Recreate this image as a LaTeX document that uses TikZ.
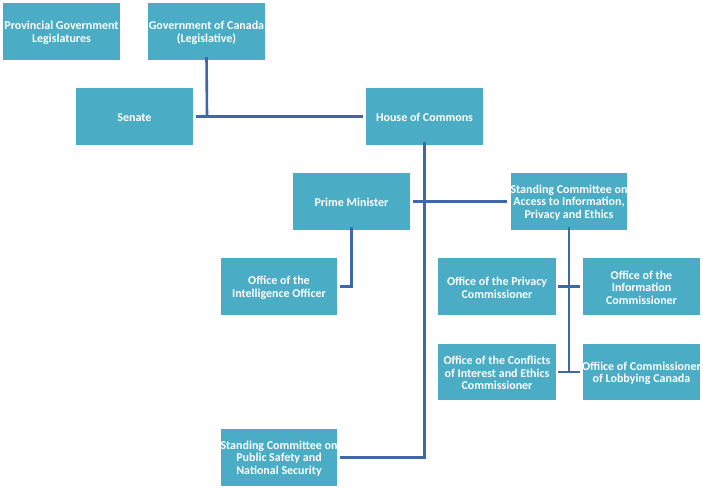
\documentclass[tikz,border=0pt]{standalone}
\usepackage{fontspec}
\setmainfont{Carlito}
\definecolor{boxfill}{RGB}{75,172,198}
\definecolor{linecol}{RGB}{62,104,170}
\begin{document}
\begin{tikzpicture}[x=1pt,y=-1pt,
  box/.style={fill=boxfill,draw=none,inner sep=0pt,minimum width=117pt,minimum height=57pt},
  lbl/.style={text=white,font=\bfseries\fontsize{12}{12.5}\selectfont,align=center,inner sep=0pt,yshift=-1.2pt},
  conn/.style={draw=linecol,line width=2.6pt}]
\useasboundingbox[fill=white] (0,0) rectangle (703,489);
\node[box] (prov) at (61.5,31.5) {};
\node[box] (gov) at (206.5,31.5) {};
\node[box] (senate) at (134.5,116.5) {};
\node[box] (house) at (424.5,116.5) {};
\node[box] (pm) at (351.5,201.5) {};
\node[box,minimum width=116pt] (scaccess) at (569,201.5) {};
\node[box,minimum width=116pt] (intel) at (279,286.5) {};
\node[box,minimum width=118pt] (privacy) at (497,286.5) {};
\node[box] (info) at (641.5,286.5) {};
\node[box,minimum width=118pt,minimum height=56pt] (conflicts) at (497,372) {};
\node[box,minimum height=56pt] (lobby) at (641.5,372) {};
\node[box,minimum width=116pt] (pubsafe) at (279,457.5) {};
\node[lbl] (prov-t) at (prov) {Provincial Government\\Legislatures};
\node[lbl] (gov-t) at (gov) {Government of Canada\\(Legislative)};
\node[lbl] (senate-t) at (senate) {Senate};
\node[lbl] (house-t) at (house) {House of Commons};
\node[lbl] (pm-t) at (pm) {Prime Minister};
\node[lbl] (scaccess-t) at (scaccess) {Standing Committee on\\Access to Information,\\Privacy and Ethics};
\node[lbl] (intel-t) at (intel) {Office of the\\Intelligence Officer};
\node[lbl] (privacy-t) at (privacy) {Office of the Privacy\\Commissioner};
\node[lbl] (info-t) at (info) {Office of the\\Information\\Commissioner};
\node[lbl] (conflicts-t) at (conflicts) {Office of the Conflicts\\of Interest and Ethics\\Commissioner};
\node[lbl] (lobby-t) at (lobby) {Offiice of Commissioner\\of Lobbying Canada};
\node[lbl] (pubsafe-t) at (pubsafe) {Standing Committee on\\Public Safety and\\National Security};
\coordinate (j1) at (207,116);
\draw[conn] ([xshift=3pt]senate.east) -- ([xshift=-3pt]house.west);
\draw[conn] ([yshift=3pt]gov.south) -- (j1);
\draw[conn] ([yshift=3pt]house.south) |- ([xshift=3pt]pubsafe.east);
\draw[conn] ([xshift=3pt]pm.east) -- ([xshift=-4pt]scaccess.west);
\draw[conn] ([yshift=3pt]pm.south) |- ([xshift=3pt]intel.east);
\coordinate (j2) at (569,372);
\draw[conn] ([yshift=3pt]scaccess.south) -- (j2);
\draw[conn] ([xshift=2pt]privacy.east) -- ([xshift=-3pt]info.west);
\draw[conn] ([xshift=2pt]conflicts.east) -- ([xshift=-3pt]lobby.west);
\end{tikzpicture}
\end{document}
